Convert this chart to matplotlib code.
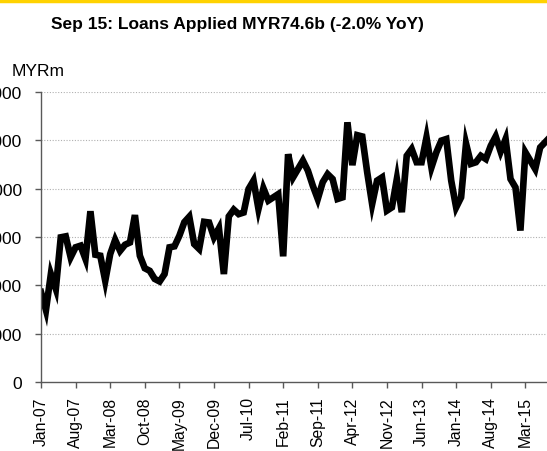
import matplotlib.pyplot as plt
from matplotlib.lines import Line2D

plt.rcParams['font.family'] = ['Liberation Sans', 'DejaVu Sans']

# Monthly loans applied, MYRm, Jan-07 .. Sep-15
loans = [
    27900, 22300, 33500, 28900, 44900, 45200, 38700, 41800, 42300, 38200,
    53000, 39500, 39200, 31400, 39700, 44100, 40700, 42600, 43300, 51800,
    39200, 35300, 34500, 32000, 31200, 33500, 41800, 42100, 45400, 49600,
    51300, 42800, 41300, 49700, 49500, 44900, 47700, 33500, 51400, 53500,
    52100, 52600, 59900, 62500, 53700, 60100, 56300, 57300, 58300, 39000,
    70700, 63500, 66100, 68700, 65600, 60900, 56800, 62000, 64500, 63000,
    56800, 57300, 80600, 67300, 76600, 76200, 65100, 55200, 62500, 63500,
    53200, 54200, 63000, 52700, 70200, 72300, 68200, 68200, 75900, 66600,
    71300, 74900, 75400, 62500, 54200, 57300, 74000, 67700, 68200, 70200,
    69200, 73300, 76200, 71500, 75400, 63000, 60400, 47000, 71300, 68700,
    66100, 72800, 74400, 76000, 74600,
]
tick_labels = ['Jan-07', 'Aug-07', 'Mar-08', 'Oct-08', 'May-09', 'Dec-09',
               'Jul-10', 'Feb-11', 'Sep-11', 'Apr-12', 'Nov-12', 'Jun-13',
               'Jan-14', 'Aug-14', 'Mar-15']
y_ticks = [0, 15000, 30000, 45000, 60000, 75000, 90000]

months = list(range(len(loans)))

fig = plt.figure(figsize=(5.47, 4.52), dpi=100)
ax = fig.add_axes([41 / 547, 69 / 452, 514 / 547, 290 / 452])

ax.plot(months, loans, color='black', linewidth=4.8, solid_joinstyle='miter')

ax.set_xlim(0, 104)
ax.set_ylim(0, 90000)
ax.set_yticks(y_ticks)
ax.set_yticklabels([str(v) for v in y_ticks])
ax.set_xticks(range(0, 7 * len(tick_labels), 7))
ax.set_xticklabels(tick_labels, rotation=90)

for v in y_ticks[1:]:
    ax.axhline(v, color='#b0b0b0', linewidth=0.8, linestyle=(0, (1, 1.5)), zorder=0)

for s in ['top', 'right']:
    ax.spines[s].set_visible(False)
for s in ['left', 'bottom']:
    ax.spines[s].set_color('#595959')
    ax.spines[s].set_linewidth(1.0)

ax.tick_params(axis='y', length=4.3, width=1, color='#595959', pad=9.5, labelsize=12.5)
ax.tick_params(axis='x', length=4.3, width=1, color='#595959', pad=6, labelsize=11.3)

fig.text(12 / 547, 1 - 71 / 452, 'MYRm', fontsize=12.5, va='center', ha='left')
fig.text(237 / 547, 1 - 24 / 452, 'Sep 15: Loans Applied MYR74.6b (-2.0% YoY)',
         fontsize=12.5, fontweight='bold', va='center', ha='center')

# yellow strip along the top edge
fig.add_artist(Line2D([0, 1], [1 - 1.5 / 452, 1 - 1.5 / 452], color='#ffd200',
                      linewidth=2.5, transform=fig.transFigure))

fig.savefig('out.png', dpi=100)
